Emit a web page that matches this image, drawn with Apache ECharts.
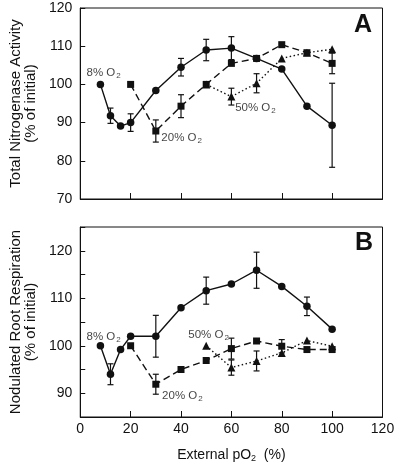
<!DOCTYPE html>
<html>
<head>
<meta charset="utf-8">
<script src="https://cdn.jsdelivr.net/npm/echarts@6/dist/echarts.min.js"></script>
<style>
html,body{margin:0;padding:0;background:#fff;}
#chart{width:400px;height:464px;}
</style>
</head>
<body>
<div id="chart"></div>
<script>
// ---- Data ----
var xTicks = [0, 20, 40, 60, 80, 100, 120];

// Panel A: Total Nitrogenase Activity (% of initial)
var xA_circle = [8, 12, 16, 20, 30, 40, 50, 60, 70, 80, 90, 100];
var yA_circle = [100, 91.8, 89.1, 90.0, 98.4, 104.5, 109.0, 109.5, 106.8, 104.0, 94.3, 89.3];
var xA_square = [20, 30, 40, 50, 60, 70, 80, 90, 100];
var yA_square = [100, 87.8, 94.3, 100, 105.5, 106.8, 110.4, 108.3, 105.5];
var xA_tri = [50, 60, 70, 80, 90, 100];
var yA_tri = [100, 96.8, 100.3, 106.8, 108.3, 109.2];
// error bars: [x, y, halfWidth]
var errA_circle = [[12, 91.8, 2.0], [20, 90.0, 2.3], [40, 104.5, 2.3], [50, 109.0, 2.8], [60, 109.5, 3.0], [100, 89.3, 11.0]];
var errA_square = [[30, 87.8, 2.9], [40, 94.3, 3.0], [100, 105.5, 2.7]];
var errA_tri = [[60, 96.8, 2.2], [70, 100.3, 2.5]];

// Panel B: Nodulated Root Respiration (% of initial)
var xB_circle = [8, 12, 16, 20, 30, 40, 50, 60, 70, 80, 90, 100];
var yB_circle = [100, 94.0, 99.2, 102.0, 102.0, 108.0, 111.6, 113.0, 115.9, 112.5, 108.3, 103.5];
var xB_square = [20, 30, 40, 50, 60, 70, 80, 90, 100];
var yB_square = [100, 91.9, 95.0, 96.9, 99.4, 101.0, 99.9, 99.2, 99.2];
var xB_tri = [50, 60, 70, 80, 90, 100];
var yB_tri = [100, 95.4, 96.8, 98.5, 101.1, 99.9];
var errB_circle = [[12, 94.0, 2.2], [30, 102.0, 4.4], [50, 111.6, 2.85], [70, 115.9, 3.8], [90, 108.3, 1.95]];
var errB_square = [[30, 91.9, 2.1], [60, 99.4, 2.2], [80, 99.9, 1.4]];
var errB_tri = [[60, 95.4, 1.6], [70, 96.8, 2.1]];

// Annotations: [x, y, label]
var notesA = [[2.5, 103.0, '8% O'], [32.2, 86.0, '20% O'], [61.5, 93.8, '50% O']];
var notesB = [[2.5, 101.9, '8% O'], [32.5, 89.4, '20% O'], [42.9, 102.3, '50% O']];

var yTitleA = 'Total Nitrogenase Activity\n(% of initial)';
var yTitleB = 'Nodulated Root Respiration\n(% of initial)';
var xTitle = 'External pO{sub|2}  (%)';

// ---- Chart ----
var FONT = '"Liberation Sans", Arial, Helvetica, sans-serif';
var INK = '#111';

function pairs(xs, ys) { return xs.map(function (x, i) { return [x, ys[i]]; }); }

function lineSeries(idx, xs, ys, symbol, size, dash) {
  return {
    type: 'line', xAxisIndex: idx, yAxisIndex: idx,
    data: pairs(xs, ys),
    symbol: symbol, symbolSize: size,
    itemStyle: { color: INK },
    lineStyle: { color: INK, width: 1.4, type: dash },
    z: 3, animation: false
  };
}

function errSeries(idx, errs) {
  return {
    type: 'custom', xAxisIndex: idx, yAxisIndex: idx,
    data: errs.map(function (e) { return [e[0], e[1] - e[2], e[1] + e[2]]; }),
    renderItem: function (params, api) {
      var lo = api.coord([api.value(0), api.value(1)]);
      var hi = api.coord([api.value(0), api.value(2)]);
      var w = 3;
      var st = { stroke: INK, lineWidth: 1.2, fill: null };
      return {
        type: 'group',
        children: [
          { type: 'line', shape: { x1: lo[0], y1: lo[1], x2: hi[0], y2: hi[1] }, style: st },
          { type: 'line', shape: { x1: lo[0] - w, y1: lo[1], x2: lo[0] + w, y2: lo[1] }, style: st },
          { type: 'line', shape: { x1: hi[0] - w, y1: hi[1], x2: hi[0] + w, y2: hi[1] }, style: st }
        ]
      };
    },
    z: 2, animation: false
  };
}

function noteSeries(idx, notes) {
  return {
    type: 'scatter', xAxisIndex: idx, yAxisIndex: idx,
    data: notes.map(function (n) { return { value: [n[0], n[1]], name: n[2] }; }),
    symbolSize: 0,
    label: {
      show: true, position: 'right', distance: 0,
      formatter: function (p) { return p.name + '{sub|2}'; },
      color: INK, fontFamily: FONT, fontSize: 11.5,
      rich: { sub: { fontSize: 8, verticalAlign: 'bottom', padding: [6, 0, 0, 1], color: INK, fontFamily: FONT } }
    },
    silent: true, animation: false, z: 4
  };
}

var gridCommon = { left: 71.5, width: 311, show: true, borderColor: INK, borderWidth: 1, backgroundColor: 'transparent' };

var option = {
  backgroundColor: '#fff',
  animation: false,
  textStyle: { fontFamily: FONT },
  grid: [
    Object.assign({ top: 8, height: 191 }, gridCommon),
    Object.assign({ top: 227, height: 190 }, gridCommon)
  ],
  xAxis: [
    {
      type: 'value', gridIndex: 0, min: 0, max: 120, interval: 20,
      axisLine: { show: true, lineStyle: { color: INK, width: 1 } },
      axisTick: { show: true, inside: true, length: 6, lineStyle: { color: INK, width: 1 } },
      axisLabel: { show: false },
      splitLine: { show: false }
    },
    {
      type: 'value', gridIndex: 1, min: 0, max: 120, interval: 20,
      axisLine: { show: true, lineStyle: { color: INK, width: 1 } },
      axisTick: { show: true, inside: true, length: 6, lineStyle: { color: INK, width: 1 } },
      axisLabel: { show: true, color: INK, fontSize: 14, fontFamily: FONT, margin: 5,
        formatter: function (v) { return xTicks.indexOf(v) >= 0 ? String(v) : ''; } },
      splitLine: { show: false },
      name: xTitle, nameLocation: 'middle', nameGap: 30,
      nameTextStyle: { color: INK, fontSize: 14, fontFamily: FONT,
        rich: { sub: { fontSize: 9, verticalAlign: 'bottom', padding: [7, 0, 0, 0], color: INK, fontFamily: FONT } } }
    }
  ],
  yAxis: [
    {
      type: 'value', gridIndex: 0, min: 70, max: 120, interval: 10,
      axisLine: { show: true, lineStyle: { color: INK, width: 1 } },
      axisTick: { show: true, inside: true, length: 5, lineStyle: { color: INK, width: 1 } },
      axisLabel: { color: INK, fontSize: 14, fontFamily: FONT, margin: 8 },
      splitLine: { show: false },
      name: yTitleA, nameLocation: 'middle', nameGap: 42, nameRotate: 90,
      nameTextStyle: { color: INK, fontSize: 15, fontFamily: FONT, lineHeight: 15 }
    },
    {
      type: 'value', gridIndex: 1, min: 85, max: 125, interval: 5,
      axisLine: { show: true, lineStyle: { color: INK, width: 1 } },
      axisTick: { show: true, inside: true, length: 5, lineStyle: { color: INK, width: 1 } },
      axisLabel: { color: INK, fontSize: 14, fontFamily: FONT, margin: 8,
        formatter: function (v) { return v % 10 === 0 ? String(v) : ''; } },
      splitLine: { show: false },
      name: yTitleB, nameLocation: 'middle', nameGap: 42, nameRotate: 90,
      nameTextStyle: { color: INK, fontSize: 15, fontFamily: FONT, lineHeight: 15 }
    }
  ],
  graphic: [
    { type: 'text', left: 354, top: 13, style: { text: 'A', font: 'bold 25px ' + FONT, fill: INK } },
    { type: 'text', left: 355, top: 231, style: { text: 'B', font: 'bold 25px ' + FONT, fill: INK } }
  ],
  series: [
    errSeries(0, errA_circle), errSeries(0, errA_square), errSeries(0, errA_tri),
    lineSeries(0, xA_circle, yA_circle, 'circle', 7.5, 'solid'),
    lineSeries(0, xA_square, yA_square, 'rect', 7, [7, 4]),
    lineSeries(0, xA_tri, yA_tri, 'triangle', 8, [1.5, 2.5]),
    noteSeries(0, notesA),
    errSeries(1, errB_circle), errSeries(1, errB_square), errSeries(1, errB_tri),
    lineSeries(1, xB_circle, yB_circle, 'circle', 7.5, 'solid'),
    lineSeries(1, xB_square, yB_square, 'rect', 7, [7, 4]),
    lineSeries(1, xB_tri, yB_tri, 'triangle', 8, [1.5, 2.5]),
    noteSeries(1, notesB)
  ]
};

var chart = echarts.init(document.getElementById('chart'), null, { renderer: 'canvas' });
chart.setOption(option);
</script>
</body>
</html>
